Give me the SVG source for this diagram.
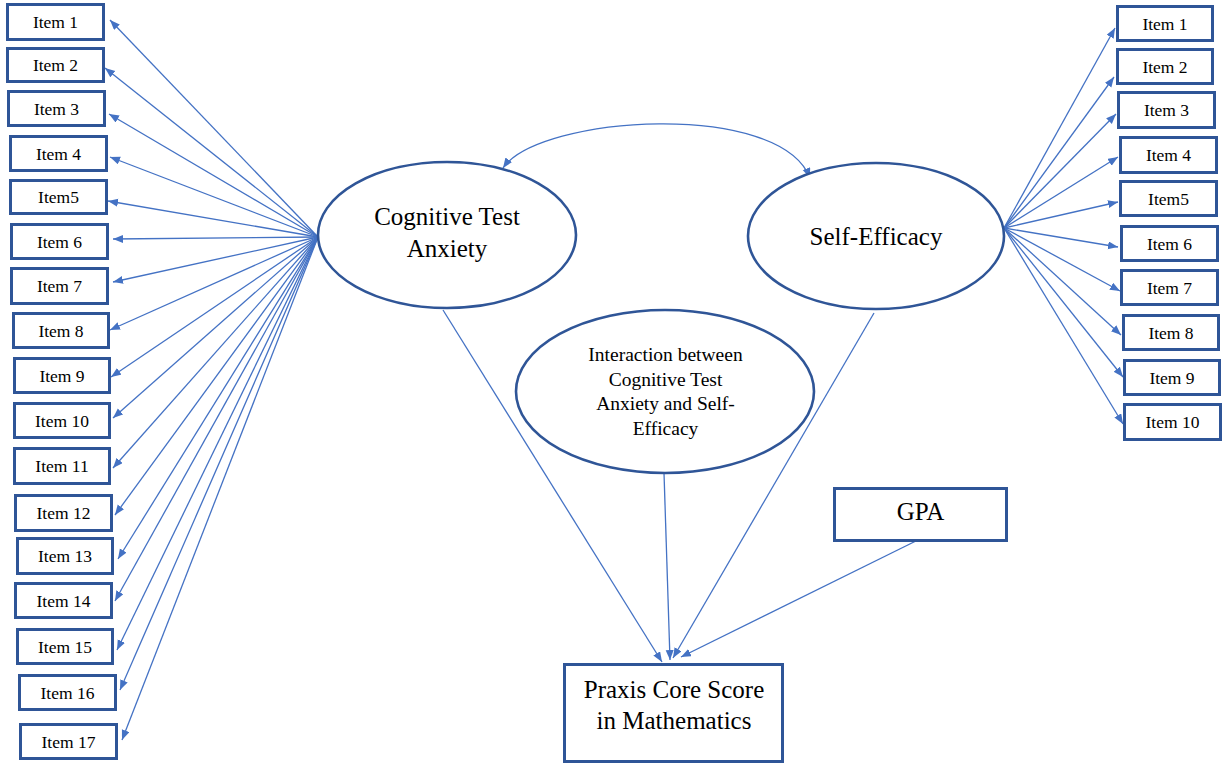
<svg xmlns="http://www.w3.org/2000/svg" width="1225" height="765" viewBox="0 0 1225 765">
<style>
.box{fill:#fff;stroke:#2F5597;stroke-width:3}
.ell{fill:#fff;stroke:#2F5597;stroke-width:2.6}
.t{font-family:"Liberation Serif","Times New Roman",serif;fill:#000;text-anchor:middle}
.it{font-size:17.5px}
.big{font-size:25px}
.mid{font-size:19.5px}
.c{stroke:#4472C4;stroke-width:1.3;fill:none;marker-end:url(#ah)}
</style>
<defs>
<marker id="ah" markerUnits="userSpaceOnUse" markerWidth="12" markerHeight="10" refX="10" refY="4" orient="auto-start-reverse">
<path d="M0,0 L10,4 L0,8 z" fill="#4472C4"/>
</marker>
</defs>
<rect width="1225" height="765" fill="#fff"/>
<g id="connectors">
<path class="c" d="M318,237 L110,20"/>
<path class="c" d="M318,237 L105,68"/>
<path class="c" d="M318,237 L109,114"/>
<path class="c" d="M318,237 L110,157"/>
<path class="c" d="M318,237 L108,201"/>
<path class="c" d="M318,237 L113,239"/>
<path class="c" d="M318,237 L113,282"/>
<path class="c" d="M318,237 L110,330"/>
<path class="c" d="M318,237 L111,377"/>
<path class="c" d="M318,237 L113,418"/>
<path class="c" d="M318,237 L113,468"/>
<path class="c" d="M318,237 L115,515"/>
<path class="c" d="M318,237 L118,559"/>
<path class="c" d="M318,237 L115,601"/>
<path class="c" d="M318,237 L117,650"/>
<path class="c" d="M318,237 L120,690"/>
<path class="c" d="M318,237 L122,740"/>
<path class="c" d="M1004,228 L1115,28"/>
<path class="c" d="M1004,228 L1114,77"/>
<path class="c" d="M1004,228 L1116,114"/>
<path class="c" d="M1004,228 L1118,157"/>
<path class="c" d="M1004,228 L1118,202"/>
<path class="c" d="M1004,228 L1118,247"/>
<path class="c" d="M1004,228 L1120,291"/>
<path class="c" d="M1004,228 L1121,335"/>
<path class="c" d="M1004,228 L1123,377"/>
<path class="c" d="M1004,228 L1123,424"/>
<path class="c" style="marker-start:url(#ah)" d="M503,168 C540,115 780,100 810,178"/>
<path class="c" d="M443,310 L662,662"/>
<path class="c" d="M664,473 L670,660"/>
<path class="c" d="M874,313 L673,658"/>
<path class="c" d="M924,537 L681,657"/>
</g>
<g id="cta"><ellipse class="ell" cx="447" cy="235" rx="129" ry="73"/>
<text class="t big" x="447" y="225">Cognitive Test</text><text class="t big" x="447" y="257">Anxiety</text></g>
<g id="se"><ellipse class="ell" cx="876" cy="236" rx="128" ry="73"/>
<text class="t big" x="876" y="245">Self-Efficacy</text></g>
<g id="inter"><ellipse class="ell" cx="665" cy="391.5" rx="149" ry="81.5"/>
<text class="t mid" x="665.5" y="361">Interaction between</text>
<text class="t mid" x="665.5" y="385.5">Cognitive Test</text>
<text class="t mid" x="665.5" y="410">Anxiety and Self-</text>
<text class="t mid" x="665.5" y="434.5">Efficacy</text></g>
<g id="gpa"><rect class="box" x="834.5" y="488.5" width="172" height="52"/>
<text class="t big" x="920.5" y="520">GPA</text></g>
<g id="praxis"><rect class="box" x="564.5" y="664.5" width="218" height="97"/>
<text class="t big" x="674" y="698">Praxis Core Score</text>
<text class="t big" x="674" y="729">in Mathematics</text></g>
<g id="L1"><rect class="box" x="7.5" y="4.5" width="96" height="35"/><text class="t it" x="55.5" y="28">Item 1</text></g>
<g id="L2"><rect class="box" x="7.5" y="48.5" width="96" height="33"/><text class="t it" x="55.5" y="71">Item 2</text></g>
<g id="L3"><rect class="box" x="8.5" y="91.5" width="96" height="34"/><text class="t it" x="56.5" y="114.5">Item 3</text></g>
<g id="L4"><rect class="box" x="10.5" y="136.5" width="96" height="34"/><text class="t it" x="58.5" y="159.5">Item 4</text></g>
<g id="L5"><rect class="box" x="10.5" y="180.5" width="96" height="33"/><text class="t it" x="58.5" y="203">Item5</text></g>
<g id="L6"><rect class="box" x="11.5" y="224.5" width="96" height="34"/><text class="t it" x="59.5" y="247.5">Item 6</text></g>
<g id="L7"><rect class="box" x="11.5" y="268.5" width="96" height="35"/><text class="t it" x="59.5" y="292">Item 7</text></g>
<g id="L8"><rect class="box" x="13.5" y="313.5" width="95" height="34"/><text class="t it" x="61" y="336.5">Item 8</text></g>
<g id="L9"><rect class="box" x="14.5" y="358.5" width="95" height="34"/><text class="t it" x="62" y="381.5">Item 9</text></g>
<g id="L10"><rect class="box" x="14.5" y="403.5" width="95" height="34"/><text class="t it" x="62" y="426.5">Item 10</text></g>
<g id="L11"><rect class="box" x="14.5" y="448.5" width="95" height="35"/><text class="t it" x="62" y="472">Item 11</text></g>
<g id="L12"><rect class="box" x="15.5" y="495.5" width="96" height="35"/><text class="t it" x="63.5" y="519">Item 12</text></g>
<g id="L13"><rect class="box" x="17.5" y="538.5" width="95" height="35"/><text class="t it" x="65" y="562">Item 13</text></g>
<g id="L14"><rect class="box" x="15.5" y="583.5" width="96" height="34"/><text class="t it" x="63.5" y="606.5">Item 14</text></g>
<g id="L15"><rect class="box" x="17.5" y="629.5" width="95" height="34"/><text class="t it" x="65" y="652.5">Item 15</text></g>
<g id="L16"><rect class="box" x="19.5" y="675.5" width="96" height="34"/><text class="t it" x="67.5" y="698.5">Item 16</text></g>
<g id="L17"><rect class="box" x="20.5" y="724.5" width="96" height="34"/><text class="t it" x="68.5" y="747.5">Item 17</text></g>
<g id="R1"><rect class="box" x="1117.5" y="6.5" width="95" height="34"/><text class="t it" x="1165" y="29.5">Item 1</text></g>
<g id="R2"><rect class="box" x="1117.5" y="49.5" width="95" height="34"/><text class="t it" x="1165" y="72.5">Item 2</text></g>
<g id="R3"><rect class="box" x="1118.5" y="92.5" width="96" height="35"/><text class="t it" x="1166.5" y="116">Item 3</text></g>
<g id="R4"><rect class="box" x="1120.5" y="137.5" width="96" height="35"/><text class="t it" x="1168.5" y="161">Item 4</text></g>
<g id="R5"><rect class="box" x="1120.5" y="181.5" width="96" height="34"/><text class="t it" x="1168.5" y="204.5">Item5</text></g>
<g id="R6"><rect class="box" x="1121.5" y="226.5" width="96" height="34"/><text class="t it" x="1169.5" y="249.5">Item 6</text></g>
<g id="R7"><rect class="box" x="1121.5" y="270.5" width="96" height="34"/><text class="t it" x="1169.5" y="293.5">Item 7</text></g>
<g id="R8"><rect class="box" x="1123.5" y="315.5" width="95" height="34"/><text class="t it" x="1171" y="338.5">Item 8</text></g>
<g id="R9"><rect class="box" x="1124.5" y="360.5" width="95" height="34"/><text class="t it" x="1172" y="383.5">Item 9</text></g>
<g id="R10"><rect class="box" x="1124.5" y="404.5" width="96" height="35"/><text class="t it" x="1172.5" y="428">Item 10</text></g>
</svg>
